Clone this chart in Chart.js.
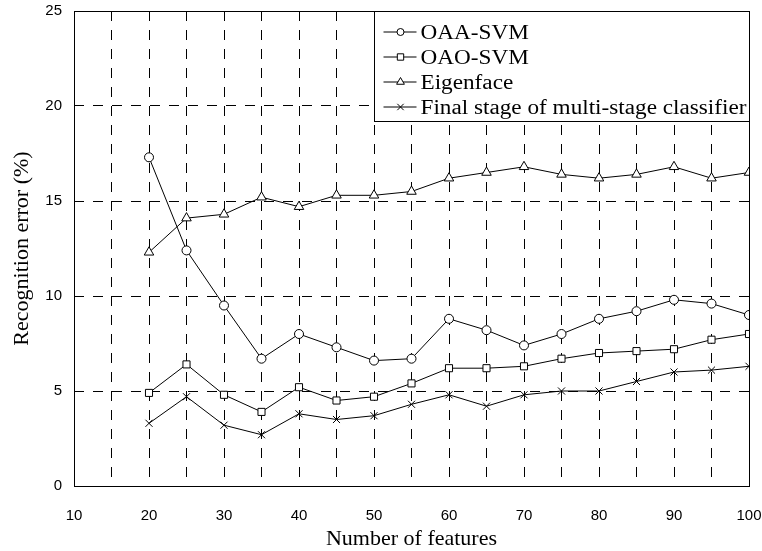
<!DOCTYPE html>
<html>
<head>
<meta charset="utf-8">
<script src="https://cdn.jsdelivr.net/npm/chart.js@4/dist/chart.umd.min.js"></script>
<style>
  body { margin: 0; background: #fff; }
  canvas { display: block; }
</style>
</head>
<body>
<canvas id="myChart" width="762" height="551"></canvas>
<script>
const features = [20, 25, 30, 35, 40, 45, 50, 55, 60, 65, 70, 75, 80, 85, 90, 95, 100];
const oaaSvm = [17.3, 12.4, 9.5, 6.7, 8.0, 7.3, 6.6, 6.7, 8.8, 8.2, 7.4, 8.0, 8.8, 9.2, 9.8, 9.6, 9.0];
const oaoSvm = [4.9, 6.4, 4.8, 3.9, 5.2, 4.5, 4.7, 5.4, 6.2, 6.2, 6.3, 6.7, 7.0, 7.1, 7.2, 7.7, 8.0];
const eigenface = [12.3, 14.1, 14.3, 15.2, 14.7, 15.3, 15.3, 15.5, 16.2, 16.5, 16.8, 16.4, 16.2, 16.4, 16.8, 16.2, 16.5];
const finalStage = [3.3, 4.7, 3.2, 2.7, 3.8, 3.5, 3.7, 4.3, 4.8, 4.2, 4.8, 5.0, 5.0, 5.5, 6.0, 6.1, 6.3];

const xTicks = [10, 20, 30, 40, 50, 60, 70, 80, 90, 100];
const yTicks = [0, 5, 10, 15, 20, 25];

function toPoints(values) {
    return features.map((f, i) => ({ x: f, y: values[i] }));
}

function makeSet(label, values, style, radius) {
    return {
        label: label,
        data: toPoints(values),
        borderColor: '#000',
        borderWidth: 1,
        pointStyle: style,
        pointRadius: radius,
        pointHoverRadius: radius,
        pointBackgroundColor: '#fff',
        pointBorderColor: '#000',
        pointBorderWidth: 1,
        tension: 0,
        fill: false
    };
}

// box around the plot
const frame = {
    id: 'frame',
    beforeDatasetsDraw(chart) {
        const { ctx, chartArea: a } = chart;
        ctx.save();
        ctx.strokeStyle = '#000';
        ctx.lineWidth = 1;
        ctx.strokeRect(Math.round(a.left) + 0.5, Math.round(a.top) + 0.5,
            Math.round(a.right) - Math.round(a.left), Math.round(a.bottom) - Math.round(a.top));
        ctx.restore();
    }
};

// legend drawn inside the plot, top right
const boxLegend = {
    id: 'boxLegend',
    afterDatasetsDraw(chart) {
        const { ctx, chartArea: a } = chart;
        const left = Math.round(chart.scales.x.getPixelForValue(50)) + 0.5;
        const top = Math.round(a.top) + 0.5;
        const right = Math.round(a.right) + 0.5;
        const bottom = top + 110;
        ctx.save();
        ctx.fillStyle = '#fff';
        ctx.fillRect(left, top, right - left, bottom - top);
        ctx.strokeStyle = '#000';
        ctx.lineWidth = 1;
        ctx.strokeRect(left, top, right - left, bottom - top);

        const sizes = { circle: 3.5, rect: 4.5, triangle: 4.5, crossRot: 4.5 };
        chart.data.datasets.forEach((ds, i) => {
            const cy = top + 20.5 + i * 25;
            ctx.strokeStyle = '#000';
            ctx.lineWidth = 1;
            ctx.beginPath();
            ctx.moveTo(left + 9, cy);
            ctx.lineTo(left + 42, cy);
            ctx.stroke();
            ctx.fillStyle = '#fff';
            Chart.helpers.drawPoint(ctx, {
                pointStyle: ds.pointStyle,
                radius: sizes[ds.pointStyle],
                rotation: 0,
                borderWidth: 1
            }, left + 26, cy);

            ctx.save();
            ctx.fillStyle = '#000';
            ctx.font = '20px "Liberation Serif"';
            ctx.textBaseline = 'alphabetic';
            ctx.translate(left + 46, cy + 6.8);
            ctx.scale(1.16, 1);
            ctx.fillText(ds.label, 0, 0);
            ctx.restore();
        });
        ctx.restore();
    }
};

const ctx = document.getElementById('myChart');

const myChart = new Chart(ctx, {
    type: 'line',
    data: {
        datasets: [
            makeSet('OAA-SVM', oaaSvm, 'circle', 4.5),
            makeSet('OAO-SVM', oaoSvm, 'rect', 5),
            makeSet('Eigenface', eigenface, 'triangle', 5.5),
            makeSet('Final stage of multi-stage classifier', finalStage, 'crossRot', 5)
        ]
    },
    plugins: [frame, boxLegend],
    options: {
        responsive: false,
        animation: false,
        events: [],
        layout: { padding: { top: 11, right: 13, left: 0, bottom: 0 } },
        plugins: {
            legend: { display: false },
            tooltip: { enabled: false }
        },
        scales: {
            x: {
                type: 'linear',
                min: 10,
                max: 100,
                afterFit(scale) {
                    scale.height = 65;
                    scale.paddingLeft = 0;
                    scale.paddingRight = 0;
                },
                ticks: {
                    stepSize: 5,
                    autoSkip: false,
                    maxRotation: 0,
                    padding: 21,
                    color: '#000',
                    font: { family: '"Liberation Sans"', size: 15 },
                    callback: (v) => xTicks.includes(v) ? String(v) : ''
                },
                grid: {
                    drawTicks: false,
                    color: (c) => (c.tick && (c.tick.value === 10 || c.tick.value === 100)) ? 'rgba(0,0,0,0)' : '#000',
                    lineWidth: 1
                },
                border: { display: false, dash: [10, 9] },
                title: {
                    display: true,
                    text: 'Number of features',
                    color: '#000',
                    font: { family: '"Liberation Serif"', size: 22, lineHeight: 1 },
                    padding: { top: 0, bottom: 1 }
                }
            },
            y: {
                min: 0,
                max: 25,
                afterFit(scale) {
                    scale.width = 74;
                    scale.paddingTop = 0;
                    scale.paddingBottom = 0;
                },
                ticks: {
                    stepSize: 5,
                    padding: 12,
                    color: '#000',
                    font: { family: '"Liberation Sans"', size: 15 },
                    callback: (v) => yTicks.includes(v) ? String(v) : ''
                },
                grid: {
                    drawTicks: false,
                    color: (c) => (c.tick && (c.tick.value === 0 || c.tick.value === 25)) ? 'rgba(0,0,0,0)' : '#000',
                    lineWidth: 1
                },
                border: { display: false, dash: [10, 9] },
                title: {
                    display: true,
                    text: 'Recognition error (%)',
                    color: '#000',
                    font: { family: '"Liberation Serif"', size: 22, lineHeight: 1 },
                    padding: { top: 11, bottom: 0 }
                }
            }
        }
    }
});
</script>
</body>
</html>
